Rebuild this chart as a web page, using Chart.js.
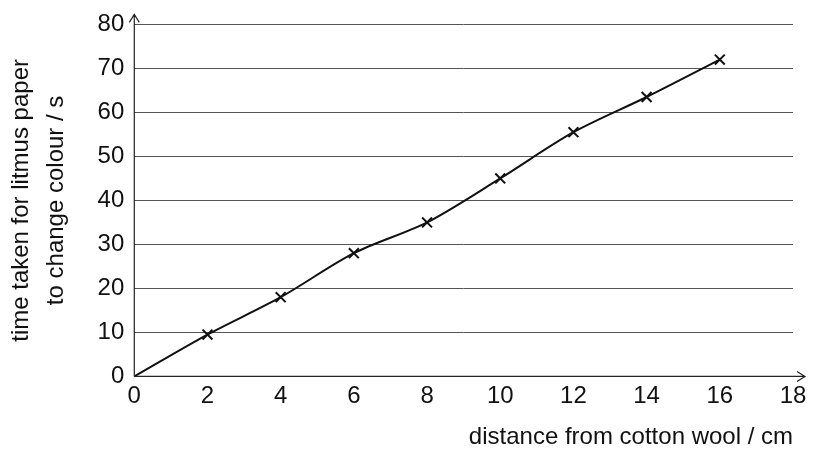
<!DOCTYPE html>
<html><head><script src="https://cdn.jsdelivr.net/npm/chart.js"></script>
<style>html,body{margin:0;background:#fff}#w{width:814px;height:464px}</style></head>
<body><div id="w"><canvas id="c"></canvas></div>
<script>
const distances=[0,2,4,6,8,10,12,14,16];
const times=[0,9.5,18,28,35,45,55.5,63.5,72];
const xTicks=[0,2,4,6,8,10,12,14,16,18];
const yTicks=[0,10,20,30,40,50,60,70,80];
const F='"Liberation Sans", Arial, sans-serif';
const arrows={id:'arrows',afterDraw(ch){const c=ch.ctx,a=ch.chartArea;c.save();c.strokeStyle='#222';c.lineWidth=1.2;
c.beginPath();c.moveTo(a.left,a.bottom);c.lineTo(a.left,a.top-10);c.moveTo(a.left-5,a.top-2);c.lineTo(a.left,a.top-10);c.lineTo(a.left+5,a.top-2);
c.moveTo(a.left,a.bottom);c.lineTo(a.right+12,a.bottom);c.moveTo(a.right+4,a.bottom-5);c.lineTo(a.right+12,a.bottom);c.lineTo(a.right+4,a.bottom+5);c.stroke();c.restore();}};
new Chart(document.getElementById('c'),{type:'line',
data:{datasets:[{data:distances.map((d,i)=>({x:d,y:times[i]})),borderColor:'#111',borderWidth:2,tension:0.3,
pointStyle:'crossRot',pointRadius:[0,7,7,7,7,7,7,7,7],pointBorderWidth:2,pointBorderColor:'#111'}]},
plugins:[arrows],
options:{responsive:true,maintainAspectRatio:false,animation:false,
layout:{padding:{top:14,right:21,left:0,bottom:8}},
plugins:{legend:{display:false},tooltip:{enabled:false}},
scales:{
x:{type:'linear',min:0,max:18,afterBuildTicks(s){s.ticks=xTicks.map(v=>({value:v}))},
grid:{display:false,drawTicks:true,tickLength:4},border:{display:false},
ticks:{color:'#111',font:{family:F,size:24},padding:2,maxRotation:0},
title:{display:true,text:'distance from cotton wool / cm',align:'end',color:'#111',font:{family:F,size:24},padding:{top:10}}},
y:{min:0,max:80,afterBuildTicks(s){s.ticks=yTicks.map(v=>({value:v}))},
grid:{color:'#555',lineWidth:1,drawTicks:false},border:{display:false},
ticks:{color:'#111',font:{family:F,size:24},padding:10},
title:{display:true,text:['time taken for litmus paper','to change colour / s'],color:'#111',font:{family:F,size:24,lineHeight:1.45},padding:{bottom:14}}}}}});
</script></body></html>
